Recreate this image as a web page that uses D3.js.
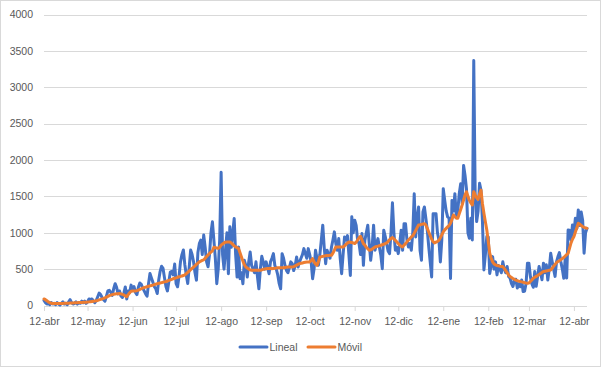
<!DOCTYPE html>
<html><head><meta charset="utf-8">
<script src="https://cdn.jsdelivr.net/npm/d3@7"></script>
<style>body{margin:0;background:#fff}svg{display:block}text{font-family:"Liberation Sans",Arial,sans-serif;fill:#595959}</style>
</head><body>
<svg id="c" width="601" height="367"></svg>
<script>
// Daily data starting 12-abr-2020
const startDate = [2020, 3, 12];
const lineal = [
  // 12-abr .. 11-may
  70,40,20,30,10,40,20,30,10,40,20,5,30,50,20,30,10,50,80,40,20,30,50,20,40,30,60,40,60,30,
  // 12-may .. 11-jun
  50,90,80,90,60,40,70,120,170,150,110,80,60,130,200,210,180,140,230,300,250,160,200,130,110,170,255,90,200,180,280,
  // 12-jun .. 11-jul
  220,260,180,150,250,310,290,240,200,160,128,300,440,380,320,260,230,165,350,470,540,510,380,260,200,330,460,470,420,569,
  // 12-jul .. 11-ago
  300,257,400,600,700,764,560,420,303,520,762,700,600,450,349,727,850,900,700,968,800,600,532,700,1000,1150,900,650,300,500,900,
  // 12-ago .. 11-sep
  1830,700,500,760,1000,437,1081,800,1000,1196,700,391,805,368,450,299,621,550,391,600,736,552,500,450,600,400,230,500,676,600,500,
  // 12-sep .. 11-oct
  600,520,437,600,650,713,550,500,420,300,230,713,650,550,483,450,520,600,575,480,550,667,529,600,650,700,782,713,650,782,
  // 12-oct .. 11-nov
  700,600,368,500,759,650,552,700,900,1104,800,575,760,700,650,800,900,1012,850,760,920,650,437,700,943,900,960,700,414,1219,1000,
  // 12-nov .. 11-dic
  1173,1100,900,851,700,989,552,897,1000,1104,850,621,800,1104,760,850,920,800,690,506,1035,950,850,750,713,1000,1412,1000,760,800,
  // 12-dic .. 11-ene
  713,850,1034,759,1125,1125,900,805,850,760,1000,1537,942,1200,1354,760,622,1285,1354,1200,1034,805,600,393,1262,1262,1262,1000,900,599,900,
  // 12-ene .. 11-feb
  1606,1445,1300,1217,1200,370,1445,1300,1537,1217,1300,1537,1674,1400,1926,1788,1600,1000,924,1200,900,3367,1500,1153,1300,1679,1583,1153,489,700,947,
  // 12-feb .. 11-mar
  942,439,550,672,500,600,421,550,500,450,600,500,450,536,400,377,300,261,355,360,241,300,260,350,192,195,300,582,
  // 12-mar .. 11-abr
  582,400,300,250,468,264,400,536,450,355,581,450,559,350,500,718,605,500,400,600,672,727,600,500,375,650,377,1038,1036,900,1107,
  // 12-abr .. 21-abr
  1000,1200,1059,1313,1100,1286,1173,718,1000,1061
];
const movil = [
  90,80,65,50,38,30,27,27,27,28,28,28,29,29,30,31,31,32,33,34,36,37,38,39,40,41,42,43,44,45,
  47,50,53,56,59,62,66,70,78,84,90,97,105,115,125,135,142,150,155,158,160,162,164,160,152,145,132,120,150,175,195,
  198,200,200,205,212,220,230,240,246,252,258,264,270,275,280,287,294,300,305,310,315,320,325,330,337,345,352,360,368,375,
  380,388,395,400,406,412,420,438,456,474,492,510,528,546,564,582,600,610,620,627,650,672,694,716,733,750,800,795,790,785,800,
  830,845,860,870,872,874,874,860,840,820,805,795,782,725,667,610,560,529,515,500,490,483,483,483,483,483,483,483,490,497,503,
  506,508,510,512,506,510,513,515,518,520,520,518,520,523,526,529,529,529,529,535,545,555,565,575,580,585,590,594,598,598,
  598,620,644,600,570,552,600,667,670,675,680,683,686,688,690,690,720,760,805,805,805,805,805,805,820,840,860,874,870,865,860,
  852,870,900,930,952,900,850,830,800,780,759,765,775,790,805,810,815,822,828,835,842,851,860,880,905,920,934,915,895,875,
  851,830,815,805,830,850,874,900,920,942,960,993,1030,1070,1107,1110,1115,1120,1125,1107,1060,1011,960,910,878,860,870,880,897,930,970,
  1011,1040,1060,1080,1100,1130,1180,1244,1220,1200,1200,1260,1320,1381,1450,1520,1564,1500,1445,1410,1381,1564,1520,1480,1459,1530,1587,1400,1267,1150,1038,
  880,718,650,600,570,558,550,545,540,537,535,510,480,450,420,398,385,372,360,350,340,335,329,325,320,315,310,306,
  310,330,350,375,388,400,412,425,440,455,467,470,475,480,485,489,510,540,565,590,604,615,630,645,660,680,700,718,790,860,910,
  947,1010,1070,1130,1120,1100,1084,1075,1068,1061
];
const yTicks = [0,500,1000,1500,2000,2500,3000,3500,4000];
const tickLabels = ["12-abr","12-may","12-jun","12-jul","12-ago","12-sep","12-oct","12-nov","12-dic","12-ene","12-feb","12-mar","12-abr"];
const seriesNames = ["Lineal","Móvil"];
const colors = ["#4472C4","#ED7D31"];

const svg = d3.select("#c");
const dayDate = i => new Date(startDate[0], startDate[1], startDate[2] + i);
const n = lineal.length;
const x = d3.scaleTime().domain([dayDate(0), dayDate(n-1)]).range([44, 587]);
const y = d3.scaleLinear().domain([0, 4000]).range([305.5, 14.5]);

// chart border
svg.append("rect").attr("x",0.5).attr("y",0.5).attr("width",600).attr("height",366)
  .attr("fill","#fff").attr("stroke","#d9d9d9");

// gridlines
svg.append("g").selectAll("line").data(yTicks).join("line")
  .attr("x1",44).attr("x2",587).attr("y1",d=>Math.round(y(d))+0.5).attr("y2",d=>Math.round(y(d))+0.5)
  .attr("stroke","#d9d9d9").attr("stroke-width",1);

// y labels
svg.append("g").selectAll("text").data(yTicks).join("text")
  .attr("x",33).attr("y",d=>y(d)).attr("dy","0.36em").attr("text-anchor","end")
  .attr("font-size","10.5px").text(d=>d);

// x axis
const tickDates = tickLabels.map((l,i)=> new Date(startDate[0], startDate[1]+i, 12));
const xAxis = d3.axisBottom(x).tickValues(tickDates).tickSize(5).tickFormat((d,i)=>tickLabels[i]);
const gx = svg.append("g").attr("transform","translate(0,306)").call(xAxis);
gx.select(".domain").attr("stroke","#d9d9d9").attr("d","M44,0.5H587");
gx.selectAll(".tick line").attr("stroke","#d9d9d9");
gx.selectAll(".tick text").attr("font-size","10.5px").attr("fill","#595959").attr("dy","1.05em")
  .style("font-family",'"Liberation Sans",Arial,sans-serif');

// lines
const line = d3.line().x((d,i)=>x(dayDate(i))).y(d=>y(d)).curve(d3.curveLinear);
[lineal, movil].forEach((s,k)=>{
  svg.append("path").datum(s).attr("d",line).attr("fill","none")
    .attr("stroke",colors[k]).attr("stroke-width",3)
    .attr("stroke-linejoin","round").attr("stroke-linecap","round");
});

// legend
const lg = svg.append("g");
const lx = [240, 308];
seriesNames.forEach((name,k)=>{
  lg.append("line").attr("x1",lx[k]).attr("x2",lx[k]+27).attr("y1",347).attr("y2",347)
    .attr("stroke",colors[k]).attr("stroke-width",3).attr("stroke-linecap","round");
  lg.append("text").attr("x",lx[k]+29.5).attr("y",347).attr("dy","0.36em")
    .attr("font-size","10.5px").text(name);
});
</script>
</body></html>
